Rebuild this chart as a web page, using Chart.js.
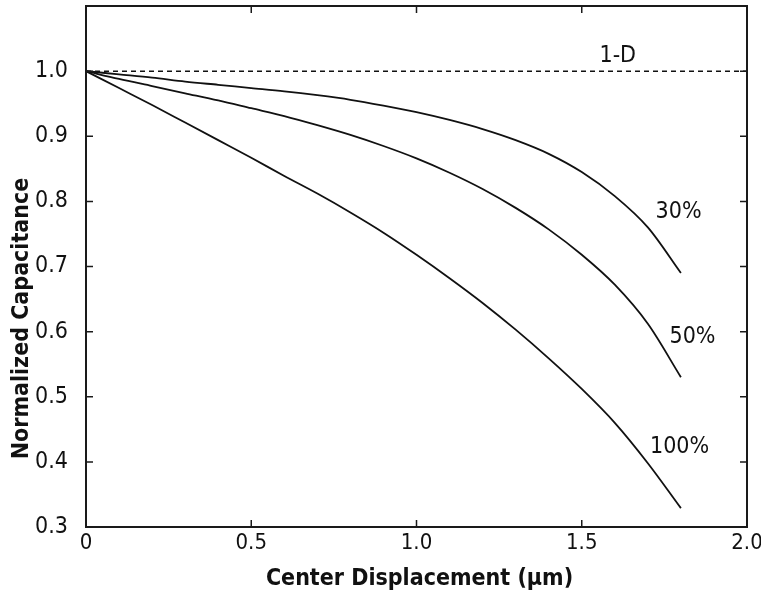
<!DOCTYPE html>
<html>
<head>
<meta charset="utf-8">
<script src="https://cdn.jsdelivr.net/npm/chart.js@4.4.0/dist/chart.umd.min.js"></script>
<style>
  html, body { margin: 0; padding: 0; background: #fff; }
  #wrap { width: 761px; height: 594px; }
</style>
</head>
<body>
<div id="wrap"><canvas id="grafico"></canvas></div>
<script>
// deslocamento do centro (um) e capacitancia normalizada
const deslocamento = [0, 0.1, 0.2, 0.3, 0.4, 0.5, 0.6, 0.7, 0.8, 0.9, 1.0, 1.1, 1.2, 1.3, 1.4, 1.5, 1.6, 1.7, 1.8];
const cap30  = [1.0, 0.995, 0.990, 0.984, 0.979, 0.974, 0.969, 0.963, 0.956, 0.947, 0.937, 0.925, 0.911, 0.894, 0.873, 0.845, 0.808, 0.760, 0.690];
const cap50  = [1.0, 0.988, 0.977, 0.966, 0.955, 0.943, 0.931, 0.917, 0.902, 0.885, 0.866, 0.844, 0.819, 0.790, 0.757, 0.718, 0.672, 0.612, 0.530];
const cap100 = [1.0, 0.974, 0.948, 0.921, 0.894, 0.867, 0.839, 0.812, 0.783, 0.752, 0.718, 0.682, 0.644, 0.603, 0.559, 0.512, 0.460, 0.398, 0.329];
const x1D = [0, 2.0];
const y1D = [1.0, 1.0];

const ticksX = [0, 0.5, 1.0, 1.5, 2.0];
const ticksY = [0.3, 0.4, 0.5, 0.6, 0.7, 0.8, 0.9, 1.0];

const rotulos = [
  { texto: "1-D",  x: 1.609, y: 1.023 },
  { texto: "30%",  x: 1.793, y: 0.783 },
  { texto: "50%",  x: 1.835, y: 0.591 },
  { texto: "100%", x: 1.796, y: 0.423 }
];

const fonte = '"DejaVu Sans Condensed", "DejaVu Sans", sans-serif';

function pontos(xs, ys) {
  return xs.map((x, i) => ({ x: x, y: ys[i] }));
}

// moldura, ticks para dentro, rotulos das curvas e titulos dos eixos
const molduraPlugin = {
  id: "moldura",
  afterDatasetsDraw(chart) {
    const { ctx, chartArea: a, scales: { x, y } } = chart;
    ctx.save();
    ctx.strokeStyle = "#1a1a1a";
    ctx.lineWidth = 2;
    ctx.strokeRect(a.left, a.top, a.right - a.left, a.bottom - a.top);

    ctx.lineWidth = 1.5;
    ctx.beginPath();
    ticksX.forEach(v => {
      const px = x.getPixelForValue(v);
      ctx.moveTo(px, a.bottom); ctx.lineTo(px, a.bottom - 7);
      ctx.moveTo(px, a.top);    ctx.lineTo(px, a.top + 7);
    });
    ticksY.forEach(v => {
      const py = y.getPixelForValue(v);
      ctx.moveTo(a.left, py);  ctx.lineTo(a.left + 7, py);
      ctx.moveTo(a.right, py); ctx.lineTo(a.right - 7, py);
    });
    ctx.stroke();

    ctx.fillStyle = "#111";
    ctx.font = "23px " + fonte;
    ctx.textAlign = "center";
    ctx.textBaseline = "middle";
    rotulos.forEach(r => {
      ctx.fillText(r.texto, x.getPixelForValue(r.x), y.getPixelForValue(r.y));
    });

    ctx.font = "bold 23px " + fonte;
    ctx.fillText("Center Displacement (\u03bcm)", (a.left + a.right) / 2 + 3, a.bottom + 52);
    ctx.translate(22, (a.top + a.bottom) / 2 + 52);
    ctx.rotate(-Math.PI / 2);
    ctx.fillText("Normalized Capacitance", 0, 0);
    ctx.restore();
  }
};

const estiloCurva = {
  showLine: true,
  borderColor: "#111",
  borderWidth: 1.8,
  pointRadius: 0,
  cubicInterpolationMode: "monotone",
  fill: false
};

new Chart(document.getElementById("grafico").getContext("2d"), {
  type: "scatter",
  data: {
    datasets: [
      { ...estiloCurva, label: "1-D", data: pontos(x1D, y1D), borderDash: [5, 4], borderWidth: 1.5 },
      { ...estiloCurva, label: "30%", data: pontos(deslocamento, cap30) },
      { ...estiloCurva, label: "50%", data: pontos(deslocamento, cap50) },
      { ...estiloCurva, label: "100%", data: pontos(deslocamento, cap100) }
    ]
  },
  options: {
    responsive: true,
    maintainAspectRatio: false,
    animation: false,
    layout: { padding: { top: 6, right: 14, left: 0, bottom: 0 } },
    plugins: {
      legend: { display: false },
      tooltip: { enabled: false }
    },
    scales: {
      x: {
        type: "linear",
        min: 0,
        max: 2.0,
        grid: { display: false },
        border: { display: false },
        afterBuildTicks: s => { s.ticks = ticksX.map(v => ({ value: v })); },
        afterFit: s => { s.height = 67; s.paddingLeft = 0; s.paddingRight = 0; },
        ticks: {
          color: "#111",
          font: { family: fonte, size: 22 },
          padding: -5,
          maxRotation: 0,
          autoSkip: false,
          callback: v => v === 0 ? "0" : v.toFixed(1)
        }
      },
      y: {
        type: "linear",
        min: 0.3,
        max: 1.1,
        grid: { display: false },
        border: { display: false },
        afterBuildTicks: s => { s.ticks = ticksY.map(v => ({ value: v })); },
        afterFit: s => { s.width = 86; s.paddingTop = 0; s.paddingBottom = 0; },
        ticks: {
          color: "#111",
          font: { family: fonte, size: 23 },
          padding: 10,
          autoSkip: false,
          callback: v => v.toFixed(1)
        }
      }
    }
  },
  plugins: [molduraPlugin]
});
</script>
</body>
</html>
